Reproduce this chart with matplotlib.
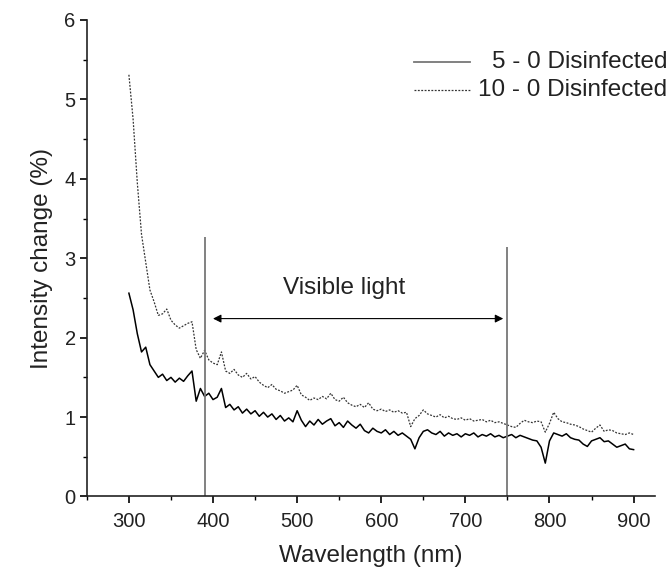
import numpy as np
import matplotlib.pyplot as plt
from matplotlib.ticker import MultipleLocator

plt.rcParams['font.family'] = ['Liberation Sans', 'DejaVu Sans']

# longitudes de onda (nm)
wavelength = np.arange(300, 901, 5)

# 5 - 0 Disinfected
diff_5_0 = [
    2.56, 2.35, 2.05, 1.82, 1.88, 1.66, 1.58, 1.50, 1.54, 1.46,
    1.50, 1.44, 1.49, 1.45, 1.52, 1.58, 1.20, 1.36, 1.26, 1.30,
    1.22, 1.25, 1.36, 1.12, 1.16, 1.09, 1.13, 1.05, 1.10, 1.04,
    1.08, 1.01, 1.06, 1.00, 1.04, 0.97, 1.02, 0.95, 0.99, 0.94,
    1.08, 0.96, 0.88, 0.95, 0.90, 0.97, 0.91, 0.95, 0.98, 0.89,
    0.93, 0.87, 0.95, 0.90, 0.86, 0.91, 0.83, 0.80, 0.86, 0.82,
    0.80, 0.84, 0.78, 0.82, 0.77, 0.80, 0.76, 0.72, 0.60, 0.74,
    0.82, 0.84, 0.80, 0.78, 0.82, 0.76, 0.80, 0.77, 0.79, 0.75,
    0.79, 0.77, 0.80, 0.75, 0.78, 0.76, 0.79, 0.75, 0.77, 0.74,
    0.76, 0.78, 0.74, 0.77, 0.75, 0.73, 0.71, 0.70, 0.62, 0.42,
    0.70, 0.80, 0.78, 0.76, 0.79, 0.74, 0.72, 0.71, 0.66, 0.63,
    0.70, 0.72, 0.74, 0.69, 0.70, 0.66, 0.62, 0.64, 0.66, 0.60,
    0.59,
]

# 10 - 0 Disinfected
diff_10_0 = [
    5.31, 4.75, 3.95, 3.30, 2.95, 2.60, 2.45, 2.28, 2.30, 2.36,
    2.22, 2.16, 2.12, 2.15, 2.18, 2.20, 1.85, 1.74, 1.84, 1.72,
    1.68, 1.66, 1.82, 1.58, 1.55, 1.60, 1.53, 1.50, 1.55, 1.48,
    1.51, 1.44, 1.40, 1.37, 1.41, 1.35, 1.33, 1.30, 1.32, 1.34,
    1.40, 1.28, 1.25, 1.21, 1.24, 1.22, 1.26, 1.23, 1.30, 1.22,
    1.20, 1.25, 1.18, 1.15, 1.13, 1.16, 1.12, 1.18, 1.10, 1.08,
    1.10, 1.07, 1.09, 1.06, 1.08, 1.05, 1.06, 0.88, 0.98, 1.02,
    1.09, 1.04, 1.02, 1.00, 1.03, 0.99, 1.01, 0.98, 0.97, 0.99,
    0.96, 0.98, 0.95, 0.96, 0.97, 0.94, 0.96, 0.93, 0.94, 0.92,
    0.90, 0.88, 0.87, 0.92, 0.96, 0.94, 0.93, 0.95, 0.94, 0.81,
    0.92, 1.06, 0.98, 0.94, 0.93, 0.91, 0.90, 0.88, 0.85, 0.83,
    0.81, 0.86, 0.90, 0.82, 0.84, 0.83, 0.80, 0.79, 0.78, 0.80,
    0.78,
]

# limites de la luz visible
visible_lines = [390, 750]
visible_tops = [3.27, 3.14]

fig = plt.figure(figsize=(6.68, 5.71), dpi=100)
ax = fig.add_axes([0.130, 0.1305, 0.850, 0.8345])

ax.plot(wavelength, diff_5_0, color='black', lw=1.1)
ax.plot(wavelength, diff_10_0, color='#333333', lw=0.9, linestyle=(0, (1.5, 1.2)))

ax.vlines(visible_lines, 0, visible_tops, color='#777777', lw=1.3)
ax.annotate('', xy=(400, 2.24), xytext=(745, 2.24),
            arrowprops=dict(arrowstyle='<|-|>', color='black', lw=0.8,
                            mutation_scale=12, shrinkA=0, shrinkB=0))
ax.text(556, 2.62, 'Visible light', ha='center', va='center', fontsize=17.5,
        color='#222222')

# leyenda alineada a la derecha
ax.plot([0.577, 0.674], [0.912, 0.912], transform=ax.transAxes,
        color='#777777', lw=1.3, clip_on=False)
ax.plot([0.577, 0.674], [0.853, 0.853], transform=ax.transAxes,
        color='#333333', lw=0.9, linestyle=(0, (1.5, 1.2)), clip_on=False)
ax.text(1.022, 0.912, '5 - 0 Disinfected', transform=ax.transAxes,
        ha='right', va='center', fontsize=17.5, color='#222222')
ax.text(1.022, 0.853, '10 - 0 Disinfected', transform=ax.transAxes,
        ha='right', va='center', fontsize=17.5, color='#222222')

ax.set_xlim(250, 925)
ax.set_ylim(0, 6)
ax.xaxis.set_major_locator(MultipleLocator(100))
ax.xaxis.set_minor_locator(MultipleLocator(50))
ax.yaxis.set_major_locator(MultipleLocator(1))
ax.yaxis.set_minor_locator(MultipleLocator(0.5))
ax.set_xticks(range(300, 901, 100))
ax.tick_params(which='major', direction='out', length=5, width=1.2, labelsize=14.5,
               labelcolor='#222222')
ax.tick_params(axis='x', which='major', pad=6)
ax.tick_params(axis='y', which='major', pad=3)
ax.tick_params(which='minor', direction='out', length=3, width=1.0)
for side in ['top', 'right']:
    ax.spines[side].set_visible(False)
for side in ['left', 'bottom']:
    ax.spines[side].set_linewidth(1.2)
    ax.spines[side].set_color('#222222')

ax.set_xlabel('Wavelength (nm)', fontsize=17.5, labelpad=10, color='#222222')
ax.set_ylabel('Intensity change (%)', fontsize=17.5, labelpad=8, color='#222222')

plt.savefig('out.png', dpi=100)
